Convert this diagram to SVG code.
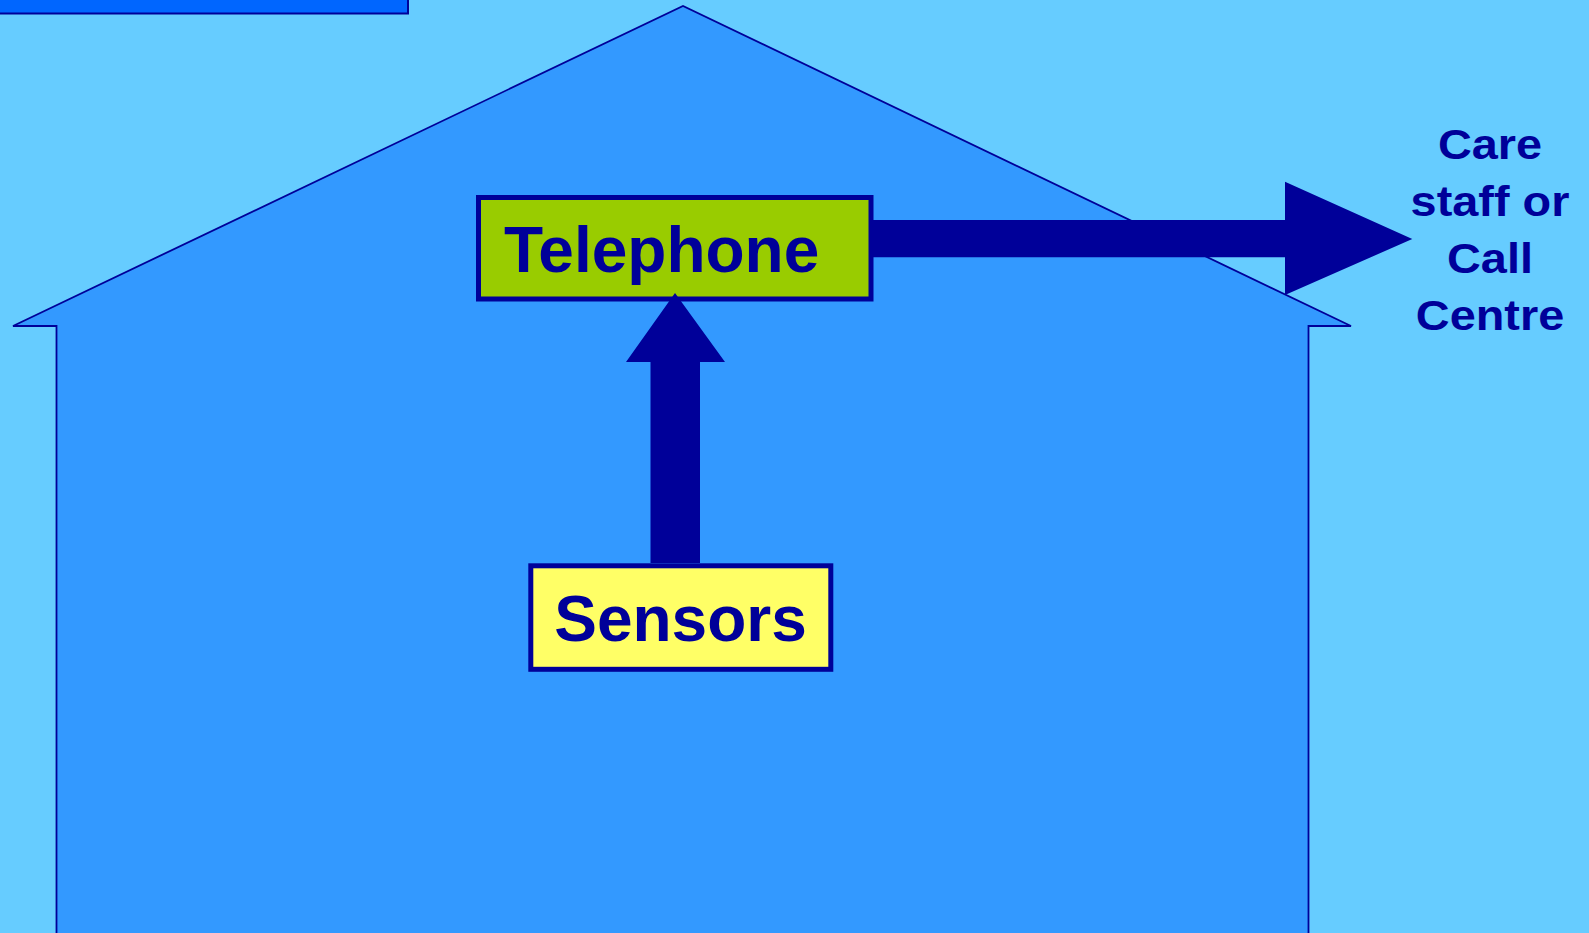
<svg xmlns="http://www.w3.org/2000/svg" width="1589" height="933" viewBox="0 0 1589 933">
<style>
.lbl{font-family:"Liberation Sans",Arial,sans-serif;font-weight:bold;fill:#000099}
.box{stroke:#000099;stroke-width:5}
.arrow{fill:#000099;stroke:none}
</style>
<rect x="0" y="0" width="1589" height="933" fill="#66CCFF"/>
<g id="title-bar">
<rect x="-3" y="-3" width="411" height="16.5" fill="#0066FF" stroke="#000099" stroke-width="2"/>
</g>
<g id="house">
<polygon points="13,326 683,6 1351,326 1308.5,326 1308.5,945 56.5,945 56.5,326" fill="#3399FF" stroke="#000099" stroke-width="1.8" stroke-linejoin="miter"/>
</g>
<g id="telephone">
<rect class="box" x="478.5" y="197.5" width="392.5" height="101.5" fill="#99CC00"/>
<text class="lbl" x="504" y="271.5" font-size="64">Telephone</text>
</g>
<g id="sensors">
<rect class="box" x="530.8" y="565.8" width="300" height="103.5" fill="#FFFF66"/>
<text class="lbl" x="680.5" y="641" font-size="64" text-anchor="middle">Sensors</text>
</g>
<g id="connectors">
<polygon class="arrow" points="650.5,563 650.5,362 626,362 675,293 725,362 700,362 700,563"/>
<polygon class="arrow" points="873,220 1285,220 1285,181.7 1412.3,239 1285,295 1285,257.3 873,257.3"/>
</g>
<g id="care-staff">
<g transform="translate(1490,0) scale(1.09,1)">
<text class="lbl" x="0" y="158.8" font-size="43" text-anchor="middle">Care</text>
<text class="lbl" x="0" y="216" font-size="43" text-anchor="middle">staff or</text>
<text class="lbl" x="0" y="273.2" font-size="43" text-anchor="middle">Call</text>
<text class="lbl" x="0" y="330.2" font-size="43" text-anchor="middle">Centre</text>
</g>
</g>
</svg>
